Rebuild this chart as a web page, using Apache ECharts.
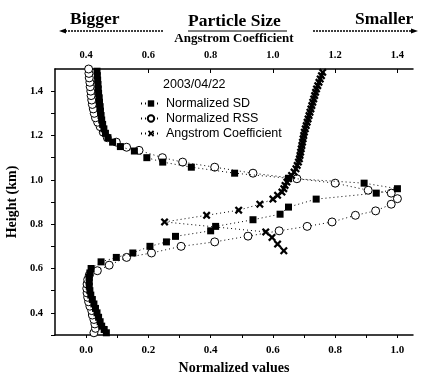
<!DOCTYPE html>
<html>
<head>
<meta charset="utf-8">
<script src="https://cdn.jsdelivr.net/npm/echarts@6/dist/echarts.min.js"></script>
<style>
  html, body { margin: 0; padding: 0; background: #fff; }
  #chart { width: 423px; height: 374px; }
</style>
</head>
<body>
<div id="chart"></div>
<script>
// Normalized SD (filled squares), bottom axis
const sdHeights = [0.31, 0.325, 0.34, 0.36, 0.38, 0.40, 0.42, 0.44, 0.46, 0.48, 0.50, 0.52, 0.54, 0.56, 0.58, 0.60,
  0.63, 0.65, 0.67, 0.70, 0.72, 0.745, 0.77, 0.79, 0.82, 0.845, 0.877, 0.913, 0.94, 0.96, 0.985, 1.007, 1.03, 1.057,
  1.08, 1.10, 1.13, 1.15, 1.17, 1.19, 1.21, 1.23, 1.25, 1.27, 1.29, 1.31, 1.33, 1.35, 1.37, 1.39, 1.41, 1.43, 1.45, 1.47, 1.49];
const sdValues = [0.065, 0.058, 0.05, 0.045, 0.04, 0.035, 0.03, 0.025, 0.02, 0.015, 0.012, 0.01, 0.01, 0.01, 0.012, 0.016,
  0.048, 0.097, 0.15, 0.205, 0.258, 0.287, 0.40, 0.416, 0.536, 0.623, 0.65, 0.739, 0.932, 1.0, 0.893, 0.65, 0.477, 0.338,
  0.246, 0.195, 0.155, 0.11, 0.085, 0.07, 0.062, 0.057, 0.053, 0.05, 0.048, 0.046, 0.045, 0.043, 0.042, 0.04, 0.039, 0.038, 0.037, 0.036, 0.035];

// Normalized RSS (open circles), bottom axis
const rssHeights = [0.31, 0.33, 0.35, 0.37, 0.39, 0.41, 0.43, 0.45, 0.47, 0.49, 0.51, 0.53, 0.55, 0.57, 0.59,
  0.615, 0.65, 0.67, 0.70, 0.72, 0.746, 0.77, 0.79, 0.81, 0.84, 0.86, 0.89, 0.915, 0.94, 0.953, 0.985, 1.005, 1.03,
  1.057, 1.08, 1.10, 1.133, 1.147, 1.17, 1.19, 1.215, 1.24, 1.26, 1.28, 1.30, 1.32, 1.34, 1.36, 1.38, 1.40, 1.42, 1.44, 1.46, 1.48, 1.50];
const rssValues = [0.025, 0.03, 0.028, 0.025, 0.02, 0.018, 0.012, 0.008, 0.005, 0.003, 0.002, 0.003, 0.005, 0.01, 0.036,
  0.074, 0.13, 0.21, 0.305, 0.413, 0.52, 0.62, 0.71, 0.79, 0.865, 0.93, 0.98, 1.0, 0.98, 0.906, 0.80, 0.677, 0.536,
  0.413, 0.31, 0.245, 0.17, 0.13, 0.097, 0.068, 0.055, 0.045, 0.037, 0.03, 0.026, 0.023, 0.02, 0.018, 0.016, 0.015, 0.013, 0.012, 0.01, 0.009, 0.008];

// Angstrom Coefficient (crosses), top axis
const angHeights = [0.68, 0.71, 0.74, 0.765, 0.81, 0.84, 0.863, 0.89, 0.913, 0.93, 0.945, 0.96, 0.975, 0.99, 1.005,
  1.02, 1.035, 1.05, 1.065, 1.08, 1.095, 1.11, 1.125, 1.14, 1.155, 1.17, 1.185, 1.2, 1.215, 1.23, 1.245, 1.26, 1.275,
  1.29, 1.305, 1.32, 1.335, 1.35, 1.365, 1.38, 1.395, 1.41, 1.425, 1.44, 1.455, 1.47, 1.485];
const angValues = [1.035, 1.015, 0.997, 0.977, 0.652, 0.787, 0.89, 0.958, 1.0, 1.015, 1.029, 1.035, 1.039, 1.045, 1.05,
  1.06, 1.068, 1.074, 1.078, 1.082, 1.085, 1.087, 1.089, 1.091, 1.093, 1.095, 1.097, 1.099, 1.101, 1.104, 1.107, 1.11, 1.113,
  1.116, 1.119, 1.122, 1.125, 1.128, 1.131, 1.134, 1.137, 1.14, 1.144, 1.148, 1.152, 1.156, 1.16];

const bottomLabels = [0.0, 0.2, 0.4, 0.6, 0.8, 1.0];
const bottomTicks = [0.0, 0.1, 0.2, 0.3, 0.4, 0.5, 0.6, 0.7, 0.8, 0.9, 1.0];
const topLabels = [0.4, 0.6, 0.8, 1.0, 1.2, 1.4];
const topTicks = [0.4, 0.6, 0.8, 1.0, 1.2, 1.4];
const yLabels = [0.4, 0.6, 0.8, 1.0, 1.2, 1.4];
const yTicks = [0.3, 0.4, 0.5, 0.6, 0.7, 0.8, 0.9, 1.0, 1.1, 1.2, 1.3, 1.4];

const pairs = (vals, hs) => vals.map((v, i) => [v, hs[i]]);

const serif = '"Liberation Serif", "DejaVu Serif", serif';
const sans = '"Liberation Sans", Arial, sans-serif';
const crossPath = 'path://M2,0 L5,3 L8,0 L10,2 L7,5 L10,8 L8,10 L5,7 L2,10 L0,8 L3,5 L0,2 Z';
const dotted = { color: '#000', width: 1, type: [1, 3] };
const labelStyle = { color: '#000', fontFamily: serif, fontWeight: 'bold', fontSize: 10.5 };

const chart = echarts.init(document.getElementById('chart'));

chart.setOption({
  animation: false,
  backgroundColor: '#fff',
  grid: { left: 55, right: 10, top: 69, bottom: 39, containLabel: false, outerBoundsMode: 'none' },
  legend: {
    orient: 'vertical',
    left: 135,
    top: 92,
    itemWidth: 20,
    itemHeight: 8,
    itemGap: 2,
    textStyle: { fontFamily: sans, fontSize: 12.5, color: '#000' },
    data: ['Normalized SD', 'Normalized RSS', 'Angstrom Coefficient']
  },
  xAxis: [
    {
      type: 'value',
      position: 'bottom',
      min: -0.1,
      max: 1.05,
      name: 'Normalized values',
      nameLocation: 'middle',
      nameGap: 26,
      nameTextStyle: { color: '#000', fontFamily: serif, fontWeight: 'bold', fontSize: 14 },
      axisLine: { onZero: false, lineStyle: { color: '#000', width: 1.5 } },
      axisTick: { show: true, length: 3, customValues: bottomTicks, lineStyle: { color: '#000' } },
      axisLabel: { ...labelStyle, fontSize: 11, margin: 10, customValues: bottomLabels, formatter: v => v.toFixed(1) },
      splitLine: { show: false }
    },
    {
      type: 'value',
      position: 'top',
      min: 0.3,
      max: 1.45,
      name: 'Angstrom Coefficient',
      nameLocation: 'middle',
      nameGap: 20,
      nameTextStyle: { color: '#000', fontFamily: serif, fontWeight: 'bold', fontSize: 13 },
      axisLine: { onZero: false, lineStyle: { color: '#000', width: 1.5 } },
      axisTick: { show: true, inside: true, length: 4, customValues: topTicks, lineStyle: { color: '#000' } },
      axisLabel: { ...labelStyle, margin: 8, customValues: topLabels, formatter: v => v.toFixed(1) },
      splitLine: { show: false }
    }
  ],
  yAxis: {
    type: 'value',
    min: 0.3,
    max: 1.5,
    name: 'Height (km)',
    nameLocation: 'middle',
    nameGap: 35,
    nameTextStyle: { color: '#000', fontFamily: serif, fontWeight: 'bold', fontSize: 14 },
    axisLine: { show: true, onZero: false, lineStyle: { color: '#000', width: 1.5 } },
    axisTick: { show: true, length: 4, customValues: yTicks, lineStyle: { color: '#000' } },
    axisLabel: { ...labelStyle, margin: 12, customValues: yLabels, formatter: v => v.toFixed(1) },
    splitLine: { show: false }
  },
  graphic: [
    { type: 'text', left: 163, top: 78, style: { text: '2003/04/22', font: '12.5px ' + sans, fill: '#000' } },
    { type: 'text', left: 70, top: 10, style: { text: 'Bigger', font: 'bold 17.5px ' + serif, fill: '#000' } },
    { type: 'text', left: 188, top: 12, style: { text: 'Particle Size', font: 'bold 17.5px ' + serif, fill: '#000' } },
    { type: 'line', shape: { x1: 188, y1: 31, x2: 287, y2: 31 }, style: { stroke: '#000', lineWidth: 1.2 } },
    { type: 'text', left: 355, top: 10, style: { text: 'Smaller', font: 'bold 17.5px ' + serif, fill: '#000' } },
    { type: 'line', shape: { x1: 62, y1: 31, x2: 163, y2: 31 }, style: { stroke: '#000', lineWidth: 1.5, lineDash: [2, 1] } },
    { type: 'polygon', shape: { points: [[59, 31], [66, 28.5], [66, 33.5]] }, style: { fill: '#000' } },
    { type: 'line', shape: { x1: 313, y1: 31, x2: 414, y2: 31 }, style: { stroke: '#000', lineWidth: 1.5, lineDash: [2, 1] } },
    { type: 'polygon', shape: { points: [[418, 31], [411, 28.5], [411, 33.5]] }, style: { fill: '#000' } }
  ],
  series: [
    {
      name: 'Normalized RSS',
      type: 'line',
      xAxisIndex: 0,
      data: pairs(rssValues, rssHeights),
      symbol: 'circle',
      symbolSize: 8,
      itemStyle: { color: '#fff', borderColor: '#000', borderWidth: 1 },
      lineStyle: dotted,
      z: 2
    },
    {
      name: 'Normalized SD',
      type: 'line',
      xAxisIndex: 0,
      data: pairs(sdValues, sdHeights),
      symbol: 'rect',
      symbolSize: 7,
      itemStyle: { color: '#000' },
      lineStyle: dotted,
      z: 3
    },
    {
      name: 'Angstrom Coefficient',
      type: 'line',
      xAxisIndex: 1,
      data: pairs(angValues, angHeights),
      symbol: crossPath,
      symbolSize: 8,
      itemStyle: { color: '#000' },
      lineStyle: dotted,
      z: 4
    }
  ]
});
</script>
</body>
</html>
